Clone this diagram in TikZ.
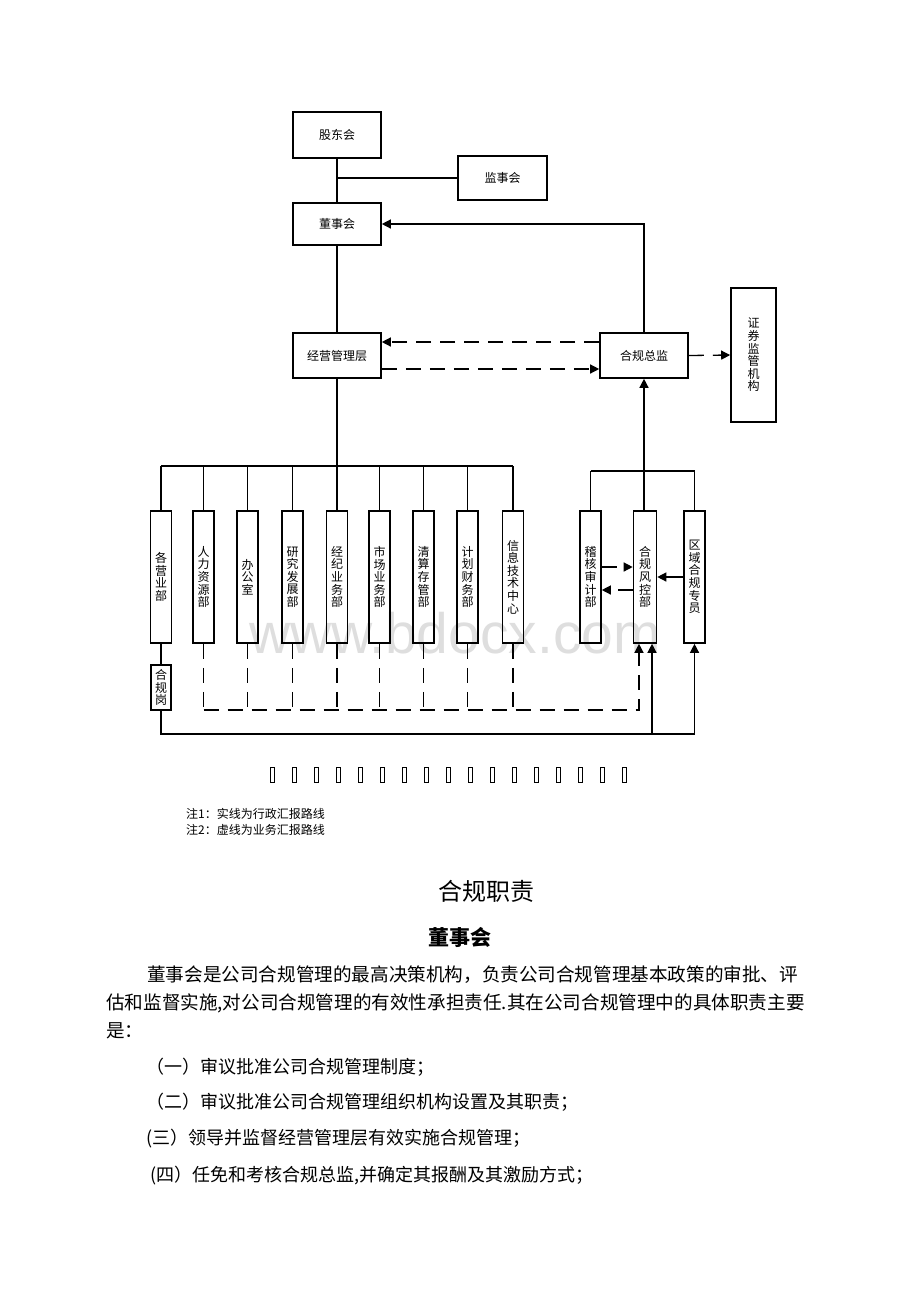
\documentclass[tikz,border=0pt]{standalone}
\usepackage{fontspec}
\newfontfamily\cjk{Noto Sans CJK SC}
\newfontfamily\wmfont{Liberation Sans}
\usetikzlibrary{arrows.meta,calc}
\tikzset{
  box/.style={draw, line width=1.6pt, inner sep=0pt, align=center, font=\cjk\fontsize{12}{12.6}\selectfont},
  hbox/.style={box, minimum width=88pt, minimum height=45pt},
  vbox/.style={box, minimum width=21pt, minimum height=132pt},
  conn/.style={line width=1.3pt},
  dashconn/.style={line width=1.3pt, dash pattern=on 15pt off 9pt},
  arr/.style={-{Triangle[length=9pt,width=9pt]}},
  para/.style={anchor=west, inner sep=0pt, font=\cjk\fontsize{18.6}{20}\selectfont},
  item/.style={anchor=west, inner sep=0pt, font=\cjk\fontsize{18}{20}\selectfont},
  note/.style={anchor=west, inner sep=0pt, font=\cjk\fontsize{12}{13}\selectfont},
  tofu/.style={draw, line width=1pt, minimum width=4pt, minimum height=15pt, inner sep=0pt}
}
\begin{document}
\begin{tikzpicture}[x=1pt,y=-1pt]
\useasboundingbox[fill=white] (0,0) rectangle (920,1302);

% watermark
\node[text=black!13, font=\wmfont\fontsize{57}{60}\selectfont, inner sep=0pt] (wm) at (455,633) {www.bdocx.com};

% top boxes
\node[hbox, minimum height=46pt] (gd) at (337,135) {股东会};
\node[hbox, minimum width=89pt, minimum height=44pt] (js) at (502.5,178) {监事会};
\node[hbox, minimum height=42pt] (ds) at (337,224) {董事会};
\node[hbox] (jy) at (337,355.5) {经营管理层};
\node[hbox] (zj) at (644,355.5) {合规总监};
\node[box, minimum width=45pt, minimum height=134pt] (zq) at (753.5,355) {证\\券\\监\\管\\机\\构};

% departments
\node[vbox] (d1) at (161,577) {各\\营\\业\\部};
\node[vbox] (d2) at (203.5,577) {人\\力\\资\\源\\部};
\node[vbox] (d3) at (247.5,577) {办\\公\\室};
\node[vbox] (d4) at (292.5,577) {研\\究\\发\\展\\部};
\node[vbox] (d5) at (337,577) {经\\纪\\业\\务\\部};
\node[vbox] (d6) at (379.5,577) {市\\场\\业\\务\\部};
\node[vbox] (d7) at (423.5,577) {清\\算\\存\\管\\部};
\node[vbox] (d8) at (467.5,577) {计\\划\\财\\务\\部};
\node[vbox] (d9) at (513,577) {信\\息\\技\\术\\中\\心};
\node[box, minimum width=20pt, minimum height=45pt] (hgg) at (161,687.5) {合\\规\\岗};

\node[vbox] (jh) at (590.5,577) {稽\\核\\审\\计\\部};
\node[vbox, minimum width=23pt] (fk) at (645,577) {合\\规\\风\\控\\部};
\node[vbox] (qy) at (694.5,577) {区\\域\\合\\规\\专\\员};

% coordinates
\coordinate (j1) at (337,178);
\coordinate (bus) at (0,466);
\coordinate (rbus) at (0,471);
\coordinate (dl1) at (0,342);
\coordinate (dl2) at (0,369);
\coordinate (dbot) at (0,710);
\coordinate (sbot) at (0,734);
\coordinate (xa) at (639,0);
\coordinate (xb) at (652,0);
\coordinate (ya) at (0,567);
\coordinate (yb) at (0,590);

% top connectors
\draw[conn] (gd.south) -- (ds.north);
\draw[conn] (j1) -- (js.west);
\draw[conn] (ds.south) -- (jy.north);
\draw[conn, arr] (zj.north) |- (ds.east);
\draw[dashconn, arr] (zj.west |- dl1) -- (jy.east |- dl1);
\draw[dashconn, arr] (jy.east |- dl2) -- (zj.west |- dl2);
\draw[dashconn, arr] (zj.east) -- (zq.west);

% department bus
\draw[conn] (jy.south) -- (jy.south |- bus);
\draw[conn] (d1.north |- bus) -- (d9.north |- bus);
\foreach \d in {d1,d2,d3,d4,d5,d6,d7,d8,d9}{
  \draw[conn] (\d.north) -- (\d.north |- bus);
}
\draw[conn] (d1.south) -- (hgg.north);

% compliance group bus
\draw[conn] (jh.north |- rbus) -- (qy.north |- rbus);
\draw[conn] (jh.north) -- (jh.north |- rbus);
\draw[conn] (qy.north) -- (qy.north |- rbus);
\draw[conn, arr] (fk.north -| zj.south) -- (zj.south);

% arrows between compliance boxes
\draw[dashconn, arr] (jh.east |- ya) -- (fk.west |- ya);
\draw[dashconn, arr] (fk.west |- yb) -- (jh.east |- yb);
\draw[conn, arr] (qy.west) -- (fk.east);

% dashed business reporting lines
\foreach \d in {d2,d3,d4,d5,d6,d7,d8,d9}{
  \draw[dashconn] (\d.south) -- (\d.south |- dbot);
}
\draw[dashconn, arr] (d2.south |- dbot) -| (fk.south -| xa);

% solid administrative lines at bottom
\draw[conn, arr] (hgg.south) |- (sbot -| qy.south) -- (qy.south);
\draw[conn, arr] (sbot -| xb) -- (fk.south -| xb);

% row of empty boxes
\foreach \i in {0,...,16}{
  \node[tofu] (t\i) at (272+22*\i,775) {};
}

% notes
\node[note] (n1) at (186,814) {注1：实线为行政汇报路线};
\node[note] (n2) at (186,830) {注2：虚线为业务汇报路线};

% text
\node[inner sep=0pt, font=\cjk\fontsize{24}{26}\selectfont] (h1) at (486,891) {合规职责};
\node[inner sep=0pt, font=\cjk\bfseries\fontsize{21}{23}\selectfont] (h2) at (460,937) {董事会};
\node[para] (p1) at (147,975) {董事会是公司合规管理的最高决策机构，负责公司合规管理基本政策的审批、评};
\node[para] (p2) at (106,1003) {估和监督实施,对公司合规管理的有效性承担责任.其在公司合规管理中的具体职责主要};
\node[para] (p3) at (106,1031) {是：};
\node[item] (i1) at (146,1067) {（一）审议批准公司合规管理制度；};
\node[item] (i2) at (146,1102) {（二）审议批准公司合规管理组织机构设置及其职责；};
\node[item] (i3) at (146,1139) {(三）领导并监督经营管理层有效实施合规管理；};
\node[item] (i4) at (150,1176) {(四）任免和考核合规总监,并确定其报酬及其激励方式；};
\end{tikzpicture}
\end{document}
